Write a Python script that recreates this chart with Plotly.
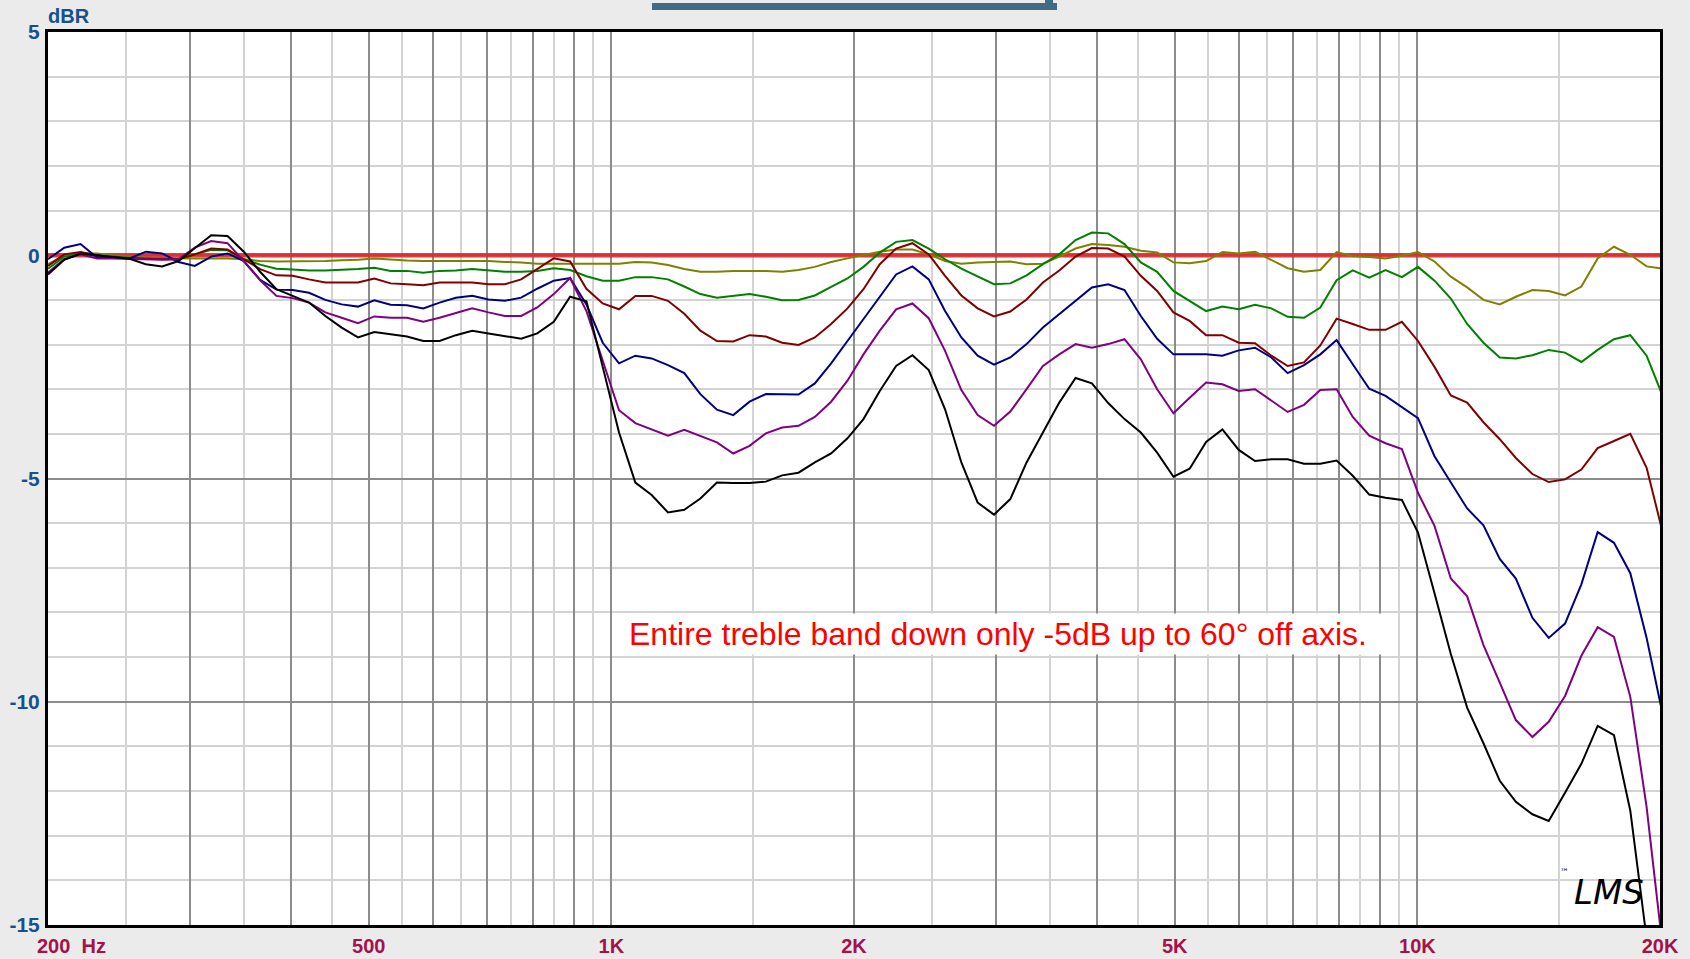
import plotly.graph_objects as go

# ---------------- data ----------------
FREQ_HZ = [200.0, 209.5, 219.5, 230.0, 241.0, 252.5, 264.5, 277.1, 290.4, 304.2,
           318.8, 334.0, 349.9, 366.6, 384.1, 402.3, 421.6, 441.7, 462.8, 484.9,
           508.0, 532.3, 557.7, 584.3, 612.1, 641.3, 671.9, 704.0, 737.6, 772.8,
           809.2, 848.3, 888.8, 931.2, 975.6, 1022.1, 1070.9, 1122.0, 1175.5, 1231.6,
           1289.5, 1352.0, 1416.5, 1484.0, 1554.8, 1629.0, 1706.8, 1788.2, 1873.5, 1962.9,
           2054.8, 2152.9, 2255.6, 2363.3, 2476.0, 2594.2, 2717.9, 2847.6, 2983.5, 3125.8,
           3274.4, 3431.2, 3595.0, 3766.5, 3946.2, 4134.5, 4331.7, 4538.4, 4755.0, 4981.8,
           5217.7, 5468.6, 5729.5, 6002.9, 6289.3, 6589.4, 6903.8, 7233.2, 7578.3, 7939.9,
           8314.4, 8715.6, 9131.5, 9567.2, 10017.7, 10501.9, 11003.0, 11528.0, 12078.0, 12654.3,
           13249.0, 13890.7, 14553.5, 15247.9, 15975.4, 16737.6, 17536.3, 18373.0, 19249.6, 20151.0]

DB_OLIVE = [-0.20, -0.01, 0.04, 0.04, 0.00, -0.03, -0.05, -0.06, -0.07, -0.07,
            -0.07, -0.07, -0.09, -0.13, -0.14, -0.14, -0.14, -0.13, -0.11, -0.10,
            -0.07, -0.10, -0.12, -0.13, -0.13, -0.13, -0.13, -0.13, -0.15, -0.16,
            -0.19, -0.19, -0.19, -0.19, -0.20, -0.19, -0.15, -0.16, -0.22, -0.31,
            -0.37, -0.37, -0.35, -0.35, -0.35, -0.37, -0.33, -0.26, -0.15, -0.07,
            0.00, 0.08, 0.13, 0.13, 0.02, -0.13, -0.19, -0.16, -0.15, -0.14,
            -0.20, -0.19, -0.03, 0.15, 0.25, 0.23, 0.19, 0.10, 0.06, -0.16,
            -0.18, -0.13, 0.07, 0.04, 0.08, -0.11, -0.29, -0.37, -0.33, 0.07,
            -0.02, -0.04, -0.07, -0.01, 0.07, -0.14, -0.48, -0.72, -1.00, -1.10,
            -0.93, -0.78, -0.80, -0.90, -0.70, -0.07, 0.19, 0.01, -0.25, -0.30]

DB_GREEN = [-0.30, -0.03, 0.02, 0.00, -0.03, -0.06, -0.08, -0.08, -0.09, 0.02,
            0.12, 0.11, -0.09, -0.21, -0.30, -0.32, -0.34, -0.34, -0.33, -0.31,
            -0.28, -0.35, -0.35, -0.39, -0.35, -0.34, -0.31, -0.34, -0.37, -0.37,
            -0.35, -0.29, -0.33, -0.47, -0.57, -0.57, -0.49, -0.49, -0.54, -0.70,
            -0.87, -0.95, -0.91, -0.87, -0.93, -1.01, -1.00, -0.90, -0.71, -0.52,
            -0.26, 0.06, 0.30, 0.34, 0.15, -0.09, -0.30, -0.48, -0.65, -0.63,
            -0.45, -0.20, 0.02, 0.34, 0.51, 0.49, 0.25, -0.16, -0.37, -0.80,
            -1.02, -1.25, -1.15, -1.21, -1.11, -1.19, -1.38, -1.40, -1.17, -0.56,
            -0.34, -0.50, -0.33, -0.49, -0.26, -0.57, -0.97, -1.54, -1.96, -2.29,
            -2.31, -2.24, -2.12, -2.18, -2.39, -2.12, -1.88, -1.79, -2.25, -3.15]

DB_DARKRED = [-0.24, 0.02, 0.07, 0.00, -0.05, -0.07, -0.08, -0.09, -0.09, 0.02,
              0.15, 0.13, -0.09, -0.31, -0.45, -0.46, -0.54, -0.61, -0.61, -0.61,
              -0.52, -0.63, -0.65, -0.67, -0.61, -0.61, -0.61, -0.65, -0.65, -0.54,
              -0.31, -0.07, -0.14, -0.75, -1.08, -1.21, -0.91, -0.91, -1.02, -1.31,
              -1.69, -1.92, -1.93, -1.79, -1.82, -1.96, -2.01, -1.84, -1.54, -1.19,
              -0.76, -0.20, 0.15, 0.27, 0.02, -0.46, -0.90, -1.19, -1.37, -1.26,
              -0.99, -0.61, -0.34, -0.03, 0.16, 0.15, -0.03, -0.46, -0.80, -1.28,
              -1.47, -1.79, -1.79, -1.96, -1.97, -2.25, -2.48, -2.40, -2.02, -1.42,
              -1.54, -1.67, -1.67, -1.49, -1.92, -2.50, -3.14, -3.30, -3.74, -4.12,
              -4.54, -4.90, -5.08, -5.02, -4.80, -4.32, -4.16, -4.00, -4.76, -6.20]

DB_NAVY = [-0.09, 0.17, 0.25, -0.05, -0.05, -0.07, 0.08, 0.04, -0.15, -0.24,
           -0.03, 0.04, -0.13, -0.55, -0.77, -0.78, -0.84, -1.00, -1.10, -1.15,
           -1.01, -1.11, -1.12, -1.19, -1.06, -0.95, -0.91, -0.99, -1.02, -0.95,
           -0.75, -0.57, -0.51, -1.10, -1.96, -2.42, -2.25, -2.31, -2.46, -2.64,
           -3.11, -3.46, -3.58, -3.28, -3.11, -3.12, -3.12, -2.87, -2.42, -1.92,
           -1.43, -0.93, -0.43, -0.25, -0.54, -1.25, -1.84, -2.25, -2.45, -2.29,
           -1.99, -1.62, -1.32, -1.02, -0.72, -0.65, -0.78, -1.36, -1.87, -2.22,
           -2.22, -2.22, -2.25, -2.13, -2.07, -2.29, -2.64, -2.46, -2.22, -1.90,
           -2.44, -2.99, -3.15, -3.41, -3.65, -4.50, -5.10, -5.67, -6.05, -6.80,
           -7.24, -8.12, -8.57, -8.25, -7.37, -6.20, -6.44, -7.12, -8.57, -10.28]

DB_PURPLE = [-0.39, -0.09, 0.02, -0.07, -0.07, -0.08, -0.10, -0.10, -0.09, 0.17,
             0.32, 0.27, -0.13, -0.56, -0.91, -0.96, -1.06, -1.28, -1.40, -1.52,
             -1.37, -1.40, -1.40, -1.49, -1.40, -1.30, -1.19, -1.28, -1.36, -1.36,
             -1.17, -0.87, -0.51, -1.25, -2.38, -3.47, -3.76, -3.90, -4.04, -3.91,
             -4.04, -4.19, -4.44, -4.27, -3.99, -3.86, -3.82, -3.62, -3.28, -2.81,
             -2.22, -1.69, -1.21, -1.08, -1.41, -2.14, -3.02, -3.58, -3.82, -3.50,
             -3.00, -2.48, -2.22, -1.99, -2.07, -1.99, -1.88, -2.33, -3.00, -3.54,
             -3.19, -2.85, -2.89, -3.04, -3.00, -3.25, -3.51, -3.35, -3.02, -3.00,
             -3.62, -4.04, -4.21, -4.34, -5.32, -6.06, -7.24, -7.64, -8.73, -9.57,
             -10.41, -10.79, -10.45, -9.87, -8.97, -8.33, -8.55, -9.89, -12.36, -15.50]

DB_BLACK = [-0.43, -0.10, 0.04, 0.00, -0.03, -0.08, -0.20, -0.25, -0.13, 0.16,
            0.45, 0.43, 0.08, -0.37, -0.76, -0.91, -1.06, -1.36, -1.62, -1.84,
            -1.72, -1.77, -1.82, -1.92, -1.92, -1.79, -1.69, -1.75, -1.81, -1.87,
            -1.75, -1.49, -0.93, -1.03, -2.50, -3.97, -5.09, -5.37, -5.76, -5.70,
            -5.45, -5.09, -5.10, -5.10, -5.07, -4.93, -4.87, -4.64, -4.44, -4.10,
            -3.67, -3.04, -2.48, -2.24, -2.57, -3.45, -4.64, -5.54, -5.81, -5.46,
            -4.64, -3.97, -3.30, -2.75, -2.87, -3.31, -3.67, -3.97, -4.42, -4.96,
            -4.78, -4.18, -3.90, -4.36, -4.61, -4.57, -4.57, -4.67, -4.67, -4.60,
            -4.94, -5.36, -5.43, -5.48, -6.21, -7.57, -8.93, -10.13, -10.93, -11.77,
            -12.24, -12.52, -12.67, -12.04, -11.39, -10.54, -10.75, -12.44, -15.30, -16.50]

REF_FREQ = [200, 20000]
REF_LEVEL = [0, 0]

X_MAJOR = [200, 300, 400, 500, 600, 700, 800, 900, 1000, 2000, 3000, 4000, 5000,
           6000, 7000, 8000, 9000, 10000, 20000]
X_TICKTEXT = ["", "", "", "500", "", "", "", "", "1K", "2K", "", "", "5K",
              "", "", "", "", "10K", "20K"]
X_MINOR = [250, 350, 450, 550, 650, 750, 850, 950, 1500, 2500, 3500, 4500, 5500,
           6500, 7500, 8500, 9500, 15000]
Y_TICKS = [-15, -10, -5, 0, 5]
Y_TICKTEXT = ["-15", "-10", "-5", "0", "5"]

SERIES = [
    ("0°", DB_OLIVE, "#808000"),
    ("15°", DB_GREEN, "#008000"),
    ("30°", DB_DARKRED, "#800000"),
    ("40°", DB_NAVY, "#000080"),
    ("50°", DB_PURPLE, "#800080"),
    ("60°", DB_BLACK, "#000000"),
]

# ---------------- figure ----------------
W, H = 1690, 959
L, R, T, B = 48, 30, 32, 34
PW, PH = W - L - R, H - T - B


def px_x(px):
    return (px - L) / PW


def px_y(py):
    return (H - B - py) / PH


fig = go.Figure()
fig.add_trace(go.Scatter(x=REF_FREQ, y=REF_LEVEL, mode="lines",
                         line=dict(color="rgba(224,40,46,0.9)", width=4.5),
                         hoverinfo="skip", showlegend=False))
for name, vals, col in SERIES:
    fig.add_trace(go.Scatter(x=FREQ_HZ, y=vals, mode="lines", name=name,
                             line=dict(color=col, width=2), showlegend=False))

blue = "#17508c"
crimson = "#a3124a"

fig.update_layout(
    width=W, height=H, autosize=False,
    margin=dict(l=L, r=R, t=T, b=B, pad=0, autoexpand=False),
    paper_bgcolor="#ebebeb", plot_bgcolor="#ffffff",
    showlegend=False,
    xaxis=dict(
        type="log", range=[2.30103, 4.30103], automargin=False,
        showline=True, mirror=True, linecolor="#000000", linewidth=3,
        tickmode="array", tickvals=X_MAJOR, ticktext=X_TICKTEXT,
        ticks="", ticklabelstandoff=1,
        tickfont=dict(family="Liberation Sans, Arial, sans-serif", size=20,
                      color=crimson, weight="bold"),
        showgrid=True, gridcolor="#8c8c8c", gridwidth=1.6,
        minor=dict(tickmode="array", tickvals=X_MINOR, showgrid=True,
                   gridcolor="#d3d3d3", gridwidth=1.5, ticks=""),
        zeroline=False, fixedrange=True,
    ),
    yaxis=dict(
        range=[-15, 5], automargin=False,
        showline=True, mirror=True, linecolor="#000000", linewidth=3,
        tickmode="array", tickvals=Y_TICKS, ticktext=Y_TICKTEXT,
        ticks="", ticklabelstandoff=1,
        tickfont=dict(family="Liberation Sans, Arial, sans-serif", size=21,
                      color=blue, weight="bold"),
        showgrid=True, gridcolor="#8c8c8c", gridwidth=1.6,
        minor=dict(dtick=1, showgrid=True, gridcolor="#d3d3d3", gridwidth=1.5,
                   ticks=""),
        zeroline=False, fixedrange=True,
    ),
)

annotations = [
    dict(text="dBR", xref="paper", yref="paper", x=px_x(46), y=px_y(16),
         xanchor="left", yanchor="middle", showarrow=False,
         font=dict(family="Liberation Sans, Arial, sans-serif", size=20,
                   color=blue, weight="bold")),
    dict(text="200\u00a0\u00a0Hz", xref="paper", yref="paper", x=px_x(35), y=px_y(946),
         xanchor="left", yanchor="middle", showarrow=False,
         font=dict(family="Liberation Sans, Arial, sans-serif", size=20,
                   color=crimson, weight="bold")),
    dict(text="Entire treble band down only -5dB up to 60° off axis.",
         xref="paper", yref="paper", x=px_x(998), y=px_y(634),
         xanchor="center", yanchor="middle", showarrow=False,
         bgcolor="#ffffff", borderpad=0, width=770, height=40,
         font=dict(family="Liberation Sans, Arial, sans-serif", size=32,
                   color="#ff0000")),
    dict(text="LMS", xref="paper", yref="paper", x=px_x(1609), y=px_y(892),
         xanchor="center", yanchor="middle", showarrow=False,
         font=dict(family="DejaVu Sans, sans-serif", size=34, color="#000000",
                   style="italic")),
    dict(text="™", xref="paper", yref="paper", x=px_x(1564), y=px_y(872),
         xanchor="center", yanchor="middle", showarrow=False,
         font=dict(family="DejaVu Sans, sans-serif", size=9, color="#000000")),
]
fig.update_layout(annotations=annotations)

bar_col = "#3f6b84"
fig.add_shape(type="rect", xref="paper", yref="paper",
              x0=px_x(652), x1=px_x(1057), y0=px_y(10), y1=px_y(3),
              fillcolor=bar_col, line=dict(width=0), layer="above")
fig.add_shape(type="rect", xref="paper", yref="paper",
              x0=px_x(1045), x1=px_x(1053), y0=px_y(10), y1=px_y(0),
              fillcolor=bar_col, line=dict(width=0), layer="above")

fig.write_html(
    "out.html",
    config={"displayModeBar": False, "staticPlot": False},
    post_script="document.body.style.margin='0px';document.body.style.padding='0px';"
                "document.documentElement.style.overflow='hidden';",
)
